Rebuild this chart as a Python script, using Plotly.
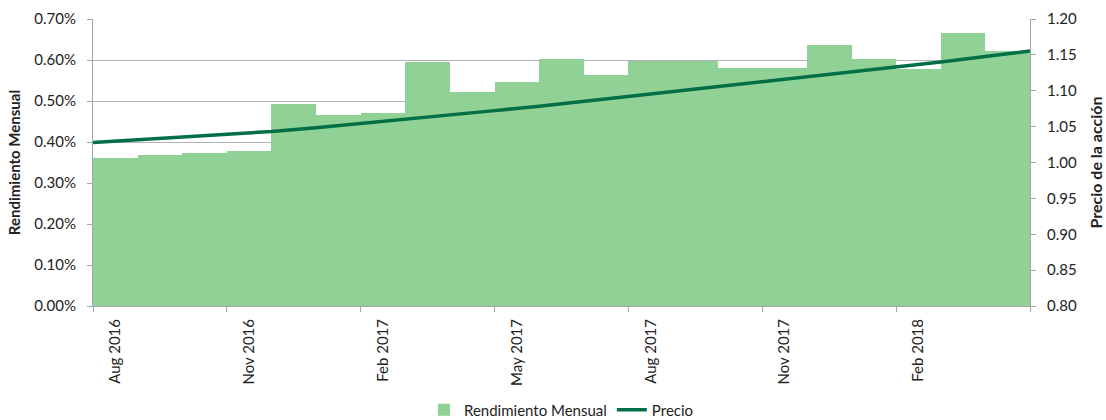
import plotly.graph_objects as go

meses = ["Aug 2016", "Sep 2016", "Oct 2016", "Nov 2016", "Dec 2016", "Jan 2017",
         "Feb 2017", "Mar 2017", "Apr 2017", "May 2017", "Jun 2017", "Jul 2017",
         "Aug 2017", "Sep 2017", "Oct 2017", "Nov 2017", "Dec 2017", "Jan 2018",
         "Feb 2018", "Mar 2018", "Apr 2018"]

# Monthly return, in percent
rendimiento = [0.362, 0.368, 0.373, 0.379, 0.493, 0.467, 0.470, 0.596, 0.523, 0.547,
               0.602, 0.563, 0.598, 0.598, 0.580, 0.580, 0.637, 0.602, 0.577, 0.665, 0.621]

# Share price at each month boundary (start of Aug 2016 ... end of Apr 2018)
precio = [1.0280, 1.0318, 1.0356, 1.0394, 1.0432, 1.0484, 1.0541, 1.0601, 1.0662,
          1.0723, 1.0783, 1.0851, 1.0921, 1.0990, 1.1061, 1.1126, 1.1191, 1.1260,
          1.1330, 1.1401, 1.1478, 1.1554]

etiquetas_paso = 3  # one label every 3 months

FONT = "Lato"
GRID = "#B4B4B4"
AXIS = "#A6A6A6"
BAR = "#90D196"
LINE = "#006F45"

x_bar = list(range(len(meses)))
x_precio = [i - 0.5 for i in range(len(precio))]
rng = [-0.5, len(meses) - 0.5]

fig = go.Figure()
fig.add_trace(go.Bar(
    x=x_bar, y=rendimiento, name="Rendimiento Mensual",
    marker=dict(color=BAR, line=dict(width=0)),
    xaxis="x", yaxis="y",
))
fig.add_trace(go.Scatter(
    x=x_precio, y=precio, name="Precio", mode="lines",
    line=dict(color=LINE, width=3.5),
    xaxis="x2", yaxis="y2",
))

fig.update_layout(
    width=1106, height=420,
    margin=dict(l=93, r=76, t=19, b=114, autoexpand=False),
    paper_bgcolor="white", plot_bgcolor="white",
    font=dict(family=FONT, size=15, color="#222222"),
    bargap=0, showlegend=True,
    legend=dict(orientation="h", x=0.5, xanchor="center", y=-0.305, yanchor="top",
                font=dict(family=FONT, size=15), itemwidth=30, tracegroupgap=0),
    xaxis=dict(range=rng, tickvals=[v - 0.5 for v in x_bar[::etiquetas_paso]] + [len(meses) - 0.5],
               showticklabels=False, ticks="outside", ticklen=5, tickcolor=AXIS,
               showline=True, linecolor=AXIS, linewidth=1, showgrid=False, zeroline=False,
               automargin=False),
    xaxis2=dict(range=rng, overlaying="x", side="bottom",
                tickvals=x_bar[::etiquetas_paso], ticktext=meses[::etiquetas_paso],
                tickangle=-90, ticks="outside", ticklen=6, tickcolor="rgba(0,0,0,0)",
                showline=False, showgrid=False, zeroline=False, automargin=False,
                tickfont=dict(family=FONT, size=15, color="#222222")),
    yaxis=dict(range=[0, 0.70], dtick=0.10, tickformat=".2f", ticksuffix="%",
               showgrid=True, gridcolor=GRID, gridwidth=1,
               showline=True, linecolor=AXIS, ticks="outside", ticklen=5, tickcolor=AXIS,
               ticklabelstandoff=8,
               zeroline=False, automargin=False,
               title=dict(text="<b>Rendimiento Mensual</b>", font=dict(family=FONT, size=15),
                          standoff=10)),
    yaxis2=dict(range=[0.80, 1.20], dtick=0.05, tickformat=".2f", overlaying="y", side="right",
                showgrid=False, showline=True, linecolor=AXIS, ticks="outside", ticklen=5,
                tickcolor=AXIS, zeroline=False, automargin=False, ticklabelstandoff=8,
                title=dict(text="<b>Precio de la acción</b>", font=dict(family=FONT, size=16),
                           standoff=14)),
)

fig.write_html("out.html",
               config={"displayModeBar": False},
               post_script="document.body.style.margin='0';document.body.style.overflow='hidden';")
